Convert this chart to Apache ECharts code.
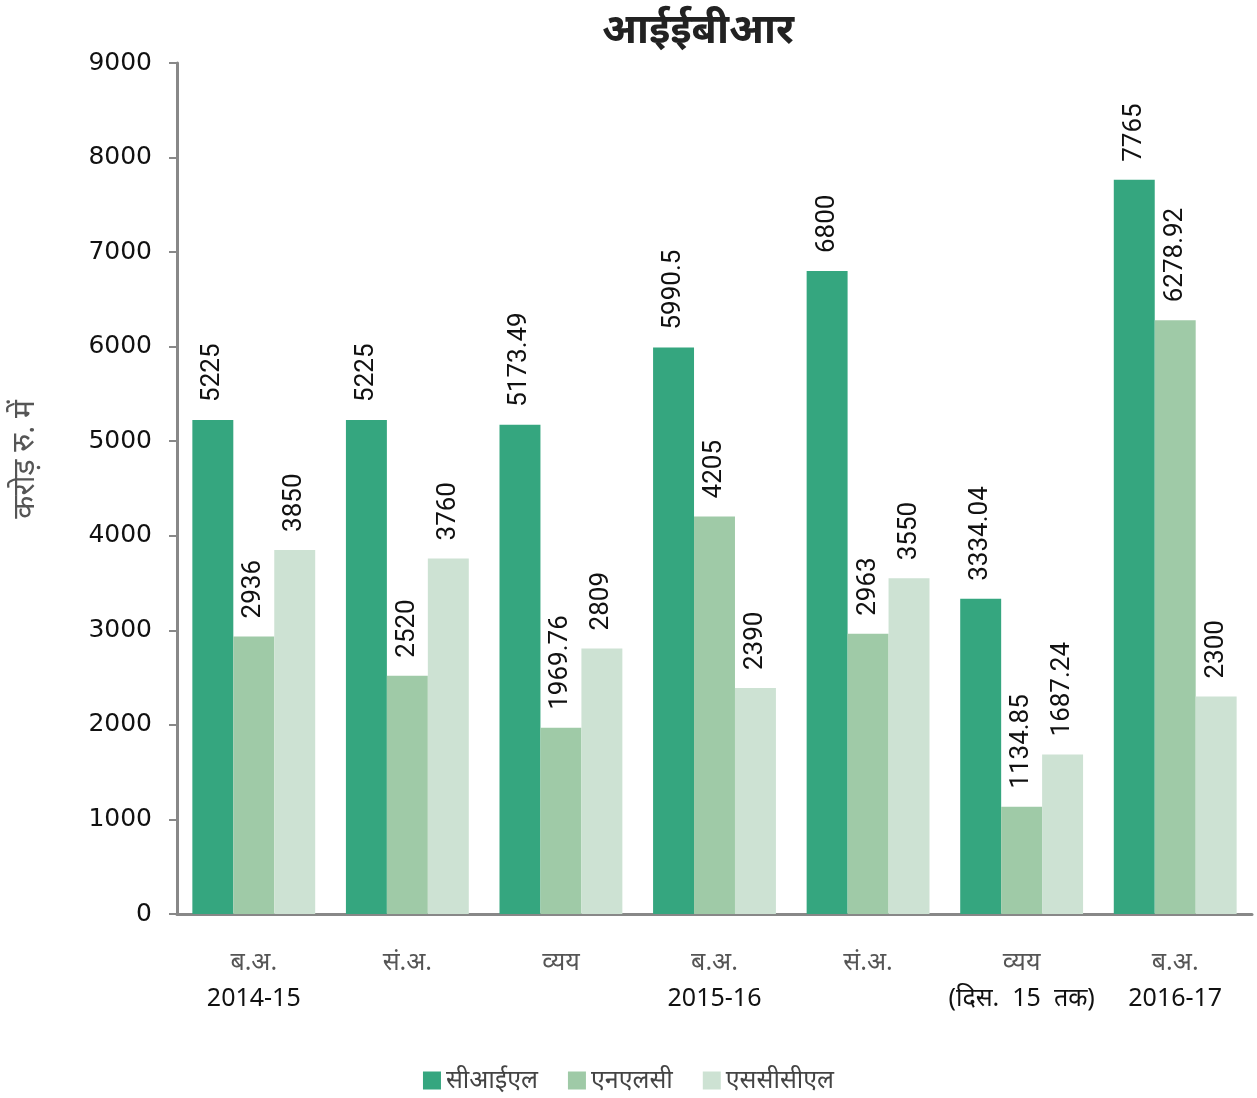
<!DOCTYPE html>
<html>
<head>
<meta charset="utf-8">
<script src="https://cdn.jsdelivr.net/npm/echarts@6/dist/echarts.min.js"></script>
<style>
  html, body { margin: 0; padding: 0; background: #fff; }
  #chart { width: 1257px; height: 1098px; }
</style>
</head>
<body>
<div id="chart"></div>
<script>
// categories (top line / bottom line)
var catTop = ['ब.अ.', 'सं.अ.', 'व्यय', 'ब.अ.', 'सं.अ.', 'व्यय', 'ब.अ.'];
var catBottom = ['2014-15', '', '', '2015-16', '', '(दिस.  15  तक)', '2016-17'];

var seriesNames = ['सीआईएल', 'एनएलसी', 'एससीसीएल'];
var cil = [5225, 5225, 5173.49, 5990.5, 6800, 3334.04, 7765];
var nlc = [2936, 2520, 1969.76, 4205, 2963, 1134.85, 6278.92];
var sccl = [3850, 3760, 2809, 2390, 3550, 1687.24, 2300];

var colors = ['#35a67f', '#9fcaa7', '#cde2d3'];

var categories = catTop.map(function (t, i) {
    return catBottom[i] ? '{a|' + t + '}\n{b|' + catBottom[i] + '}' : '{a|' + t + '}';
});

var myChart = echarts.init(document.getElementById('chart'));

function makeSeries(name, data, idx) {
    return {
        name: name,
        type: 'bar',
        data: data,
        barGap: '0%',
        barCategoryGap: '20%',
        itemStyle: { color: colors[idx] },
        label: {
            show: true,
            position: 'top',
            rotate: 90,
            align: 'left',
            verticalAlign: 'middle',
            distance: 18,
            fontSize: 26,
            fontFamily: 'Liberation Sans Narrow, Roboto, sans-serif',
            color: '#111'
        }
    };
}

var option = {
    animation: false,
    title: {
        text: 'आईईबीआर',
        left: 693,
        textAlign: 'center',
        top: 6,
        textStyle: { fontSize: 41, fontWeight: 'bold', color: '#222', fontFamily: 'Noto Sans, sans-serif' }
    },
    legend: {
        data: seriesNames,
        bottom: 0,
        left: 'center',
        itemWidth: 18,
        itemHeight: 18,
        itemGap: 30,
        icon: 'rect',
        textStyle: { fontSize: 25, color: '#444', fontFamily: 'Noto Sans, sans-serif' }
    },
    graphic: [{
        type: 'text',
        left: 10,
        top: 400,
        rotation: Math.PI / 2,
        style: {
            text: 'करोड़ रु. में',
            fontSize: 30,
            fill: '#555',
            fontFamily: 'Noto Sans, sans-serif'
        }
    }],
    grid: { left: 177, right: 5, top: 63, bottom: 184 },
    xAxis: {
        type: 'category',
        data: categories,
        axisLine: { lineStyle: { color: '#888', width: 3 } },
        axisTick: { show: false },
        axisLabel: {
            interval: 0,
            margin: 31,
            rich: {
                a: { fontSize: 25, color: '#555', lineHeight: 36, fontFamily: 'Noto Sans, sans-serif' },
                b: { fontSize: 25, color: '#111', lineHeight: 36, fontFamily: 'Noto Sans, sans-serif' }
            }
        }
    },
    yAxis: {
        type: 'value',
        min: 0,
        max: 9000,
        interval: 1000,
        splitLine: { show: false },
        axisLine: { show: true, lineStyle: { color: '#888', width: 3 } },
        axisTick: { show: true, length: 8, lineStyle: { color: '#888', width: 2 } },
        axisLabel: {
            fontSize: 25,
            color: '#111',
            margin: 25,
            fontFamily: 'DejaVu Sans, sans-serif',
            formatter: function (v) { return String(v); }
        }
    },
    series: [
        makeSeries(seriesNames[0], cil, 0),
        makeSeries(seriesNames[1], nlc, 1),
        makeSeries(seriesNames[2], sccl, 2)
    ]
};

myChart.setOption(option);
</script>
</body>
</html>
